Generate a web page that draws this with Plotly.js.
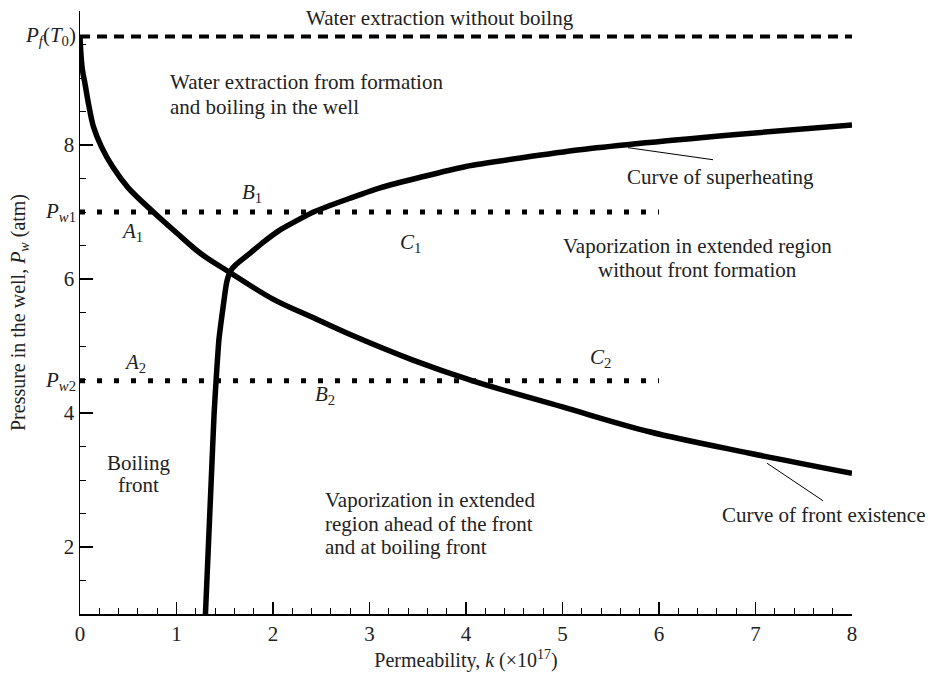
<!DOCTYPE html>
<html>
<head>
<meta charset="utf-8">
<script src="https://cdn.plot.ly/plotly-3.0.1.min.js"></script>
<style>html,body{margin:0;padding:0;background:#fff;}#chart{width:932px;height:674px;}</style>
</head>
<body>
<div id="chart"></div>
<script>
// Curve of front existence
const frontK = [0, 0.01, 0.025, 0.05, 0.09, 0.14, 0.22, 0.34, 0.5, 0.76, 1.0, 1.25, 1.55, 2.0, 2.42, 2.77, 3.45, 4.07, 5.0, 5.9, 6.94, 8.0];
const frontP = [9.62, 9.35, 9.12, 8.93, 8.6, 8.27, 7.98, 7.67, 7.36, 7.0, 6.69, 6.38, 6.1, 5.7, 5.42, 5.19, 4.79, 4.48, 4.09, 3.72, 3.40, 3.1];
// Curve of superheating
const superK = [1.30, 1.33, 1.36, 1.39, 1.41, 1.44, 1.48, 1.52, 1.56, 1.62, 1.75, 1.9, 2.07, 2.42, 3.11, 4.0, 5.18, 6.74, 8.0];
const superP = [1.0, 2.0, 3.0, 4.0, 4.48, 5.1, 5.55, 5.95, 6.12, 6.22, 6.37, 6.55, 6.73, 7.0, 7.36, 7.68, 7.93, 8.15, 8.3];
// Horizontal levels
const pfLevel = 9.62, pw1Level = 7.0, pw2Level = 4.48;
const pfK = [0, 8];
const pwK = [0, 6];
// Leader lines
const superLeadK = [5.68, 6.56], superLeadP = [7.96, 7.78];
const frontLeadK = [7.12, 7.70], frontLeadP = [3.25, 2.69];
// Tick labels
const xTicks = [0, 1, 2, 3, 4, 5, 6, 7, 8];
const yTicks = [2, 4, 6, 8, 10];

const serif = 'Liberation Serif, Times New Roman, serif';
const fs = 21;
const txtColor = '#222';

const traces = [
  {x: pfK, y: [pfLevel, pfLevel], mode: 'lines', line: {color: '#000', width: 4, dash: '10px,7px'}},
  {x: pwK, y: [pw1Level, pw1Level], mode: 'lines', line: {color: '#000', width: 5, dash: '5px,12px'}},
  {x: pwK, y: [pw2Level, pw2Level], mode: 'lines', line: {color: '#000', width: 5, dash: '5px,12px'}},
  {x: frontK, y: frontP, mode: 'lines', line: {color: '#000', width: 5.5, shape: 'spline', smoothing: 1}},
  {x: superK, y: superP, mode: 'lines', line: {color: '#000', width: 5.5, shape: 'spline', smoothing: 0.5}},
  {x: superLeadK, y: superLeadP, mode: 'lines', line: {color: '#000', width: 1}},
  {x: frontLeadK, y: frontLeadP, mode: 'lines', line: {color: '#000', width: 1}}
];

function ann(x, y, text, opts) {
  return Object.assign({x: x, y: y, xref: 'x', yref: 'y', text: text, showarrow: false,
    font: {family: serif, size: fs, color: txtColor}}, opts || {});
}
const L = {xanchor: 'left'};

const annotations = [
  ann(3.73, 9.9, 'Water extraction without boilng'),
  ann(0.91, 8.94, 'Water extraction from formation', L),
  ann(0.91, 8.57, 'and boiling in the well', L),
  ann(1.78, 7.28, '<i>B</i><sub>1</sub>'),
  ann(0.54, 6.70, '<i>A</i><sub>1</sub>'),
  ann(3.42, 6.54, '<i>C</i><sub>1</sub>'),
  ann(6.64, 7.52, 'Curve of superheating'),
  ann(6.4, 6.49, 'Vaporization in extended region'),
  ann(6.4, 6.13, 'without front formation'),
  ann(0.57, 4.75, '<i>A</i><sub>2</sub>'),
  ann(5.39, 4.82, '<i>C</i><sub>2</sub>'),
  ann(2.54, 4.27, '<i>B</i><sub>2</sub>'),
  ann(0.61, 3.25, 'Boiling'),
  ann(0.61, 2.93, 'front'),
  ann(2.52, 2.70, 'Vaporization in extended', L),
  ann(2.52, 2.34, 'region ahead of the front', L),
  ann(2.52, 2.00, 'and at boiling front', L),
  ann(7.71, 2.48, 'Curve of front existence'),
  {x: 0, y: pfLevel, xref: 'paper', yref: 'y', xanchor: 'right', xshift: -2, showarrow: false,
   text: '<i>P<sub>f</sub></i>(<i>T</i><sub>0</sub>)', font: {family: serif, size: fs, color: txtColor}},
  {x: 0, y: pw1Level, xref: 'paper', yref: 'y', xanchor: 'right', xshift: -2, showarrow: false,
   text: '<i>P</i><sub><i>w</i>1</sub>', font: {family: serif, size: fs, color: txtColor}},
  {x: 0, y: pw2Level, xref: 'paper', yref: 'y', xanchor: 'right', xshift: -2, showarrow: false,
   text: '<i>P</i><sub><i>w</i>2</sub>', font: {family: serif, size: fs, color: txtColor}}
];

const layout = {
  width: 932, height: 674,
  margin: {l: 80, r: 80, t: 11, b: 60},
  paper_bgcolor: '#fff', plot_bgcolor: '#fff',
  showlegend: false,
  font: {family: serif, size: fs, color: txtColor},
  xaxis: {
    range: [0, 8], showgrid: false, zeroline: false, showline: true, linecolor: '#000', linewidth: 1.5,
    ticks: 'inside', ticklen: 12, tickwidth: 1.5, tickcolor: '#000',
    tickvals: xTicks, ticktext: xTicks.map(String),
    tickfont: {family: serif, size: 21, color: txtColor},
    minor: {dtick: 0.2, ticks: 'inside', ticklen: 6, tickwidth: 1, tickcolor: '#000', showgrid: false},
    title: {text: 'Permeability, <i>k</i> (×10<sup>17</sup>)', font: {family: serif, size: 20, color: txtColor}, standoff: 8}
  },
  yaxis: {
    range: [1, 10], showgrid: false, zeroline: false, showline: true, linecolor: '#000', linewidth: 1.5,
    ticks: 'inside', ticklen: 13, tickwidth: 1.5, tickcolor: '#000',
    tickvals: yTicks, ticktext: yTicks.map(String),
    tickfont: {family: serif, size: 21, color: txtColor},
    minor: {dtick: 0.5, tick0: 0, ticks: 'inside', ticklen: 6, tickwidth: 1, tickcolor: '#000', showgrid: false},
    title: {text: 'Pressure in the well, <i>P<sub>w</sub></i> (atm)', font: {family: serif, size: 20, color: txtColor}, standoff: 33}
  },
  annotations: annotations
};

Plotly.newPlot('chart', traces, layout, {displayModeBar: false, staticPlot: true});
</script>
</body>
</html>
